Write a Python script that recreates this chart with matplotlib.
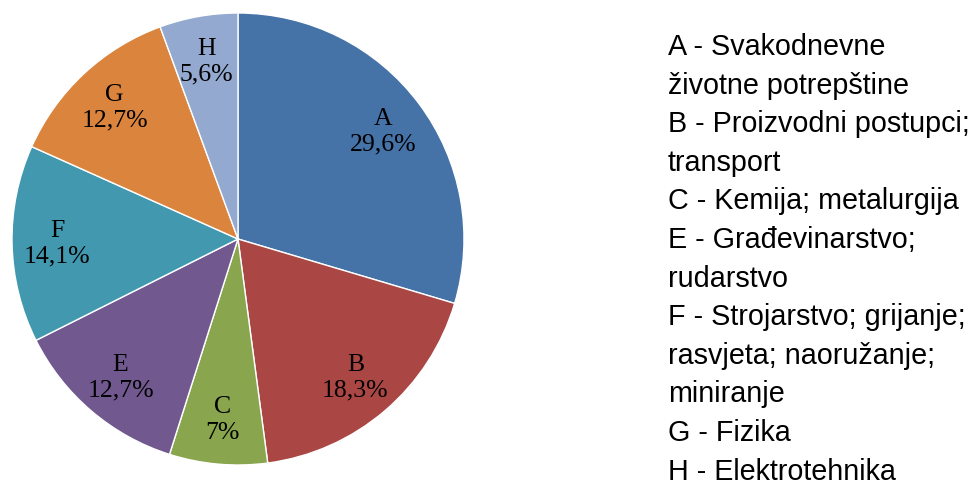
import matplotlib
matplotlib.use("Agg")
import matplotlib.pyplot as plt

categories = ["A", "B", "C", "E", "F", "G", "H"]
shares = [29.6, 18.3, 7.0, 12.7, 14.1, 12.7, 5.6]
colors = ["#4572A7", "#AA4643", "#89A54E", "#71588F", "#4198AF", "#DB843D", "#93A9CF"]
legend_lines = [
    "A - Svakodnevne",
    "životne potrepštine",
    "B - Proizvodni postupci;",
    "transport",
    "C - Kemija; metalurgija",
    "E - Građevinarstvo;",
    "rudarstvo",
    "F - Strojarstvo; grijanje;",
    "rasvjeta; naoružanje;",
    "miniranje",
    "G - Fizika",
    "H - Elektrotehnika",
]


def pct(v):
    s = "%.1f" % v
    if s.endswith(".0"):
        s = s[:-2]
    return s.replace(".", ",") + "%"


W, H = 979, 485
fig = plt.figure(figsize=(W / 100, H / 100), dpi=100)
cx, cy, r = 238, 240, 226
ax = fig.add_axes([(cx - r) / W, (H - cy - r) / H, 2 * r / W, 2 * r / H])

labels = [c + "\n" + pct(v) for c, v in zip(categories, shares)]
wedges, texts = ax.pie(shares, labels=labels, colors=colors, startangle=90,
                       counterclock=False, labeldistance=0.8,
                       wedgeprops=dict(edgecolor="white", linewidth=1),
                       textprops=dict(family="Liberation Serif", fontsize=18.5))
for t in texts:
    t.set_ha("center")
    t.set_va("center")
    t.set_multialignment("center")
    t.set_linespacing(1.2)
ax.set_xlim(-1, 1)
ax.set_ylim(-1, 1)
ax.set_aspect("equal")

# legend as plain text lines, no markers
for i, line in enumerate(legend_lines):
    y = 47 + 38.6 * i
    fig.text(668 / W, 1 - y / H, line, family="Liberation Sans", fontsize=20.7,
             ha="left", va="center")

fig.savefig("out.png", dpi=100)
